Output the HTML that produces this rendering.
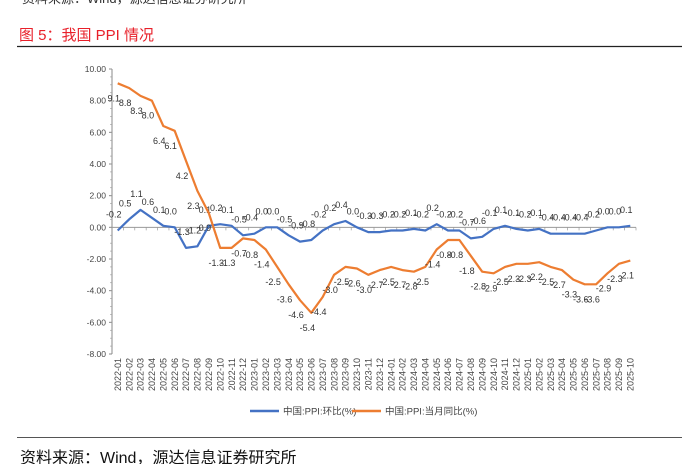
<!DOCTYPE html>
<html><head><meta charset="utf-8">
<style>
html,body{margin:0;padding:0;background:#fff;}
body{width:682px;height:464px;overflow:hidden;position:relative;font-family:"Liberation Sans","Noto Sans CJK SC",sans-serif;}
</style></head>
<body>
<svg id="chart" width="682" height="464" viewBox="0 0 682 464" xmlns="http://www.w3.org/2000/svg" font-family="Liberation Sans, Noto Sans CJK SC, sans-serif">
<text x="22" y="3" font-size="13" fill="#333">资料来源：Wind，源达信息证券研究所</text>
<text x="19" y="40" font-size="15" fill="#e8202a">图 5：我国 PPI 情况</text>
<line x1="17" y1="46.5" x2="682" y2="46.5" stroke="#222" stroke-width="1.3"/>
<g id="axes"></g>
<g id="series"></g>
<g id="legend">
<line x1="250" y1="411" x2="279" y2="411" stroke="#4472c4" stroke-width="2.5"/>
<text x="283" y="414.5" font-size="9.5" fill="#444">中国:PPI:环比(%)</text>
<line x1="352" y1="411" x2="381" y2="411" stroke="#ed7d31" stroke-width="2.5"/>
<text x="385" y="414.5" font-size="9.5" fill="#444">中国:PPI:当月同比(%)</text>
</g>
<line x1="17" y1="437.5" x2="682" y2="437.5" stroke="#555" stroke-width="1"/>
<text x="20" y="463" font-size="16" fill="#111">资料来源：Wind，源达信息证券研究所</text>
</svg>
<script>
const categories=[];
const years=[2022,2023,2024,2025];
const momValues=[-0.2,0.5,1.1,0.6,0.1,0.0,-1.3,-1.2,0.1,0.2,0.1,-0.5,
-0.4,0.0,0.0,-0.5,-0.9,-0.8,-0.2,0.2,0.4,0.0,-0.3,-0.3,
-0.2,-0.2,-0.1,-0.2,0.2,-0.2,-0.2,-0.7,-0.6,-0.1,0.1,-0.1,
-0.2,-0.1,-0.4,-0.4,-0.4,-0.4,-0.2,0.0,0.0,0.1];
const yoyValues=[9.1,8.8,8.3,8.0,6.4,6.1,4.2,2.3,0.9,-1.3,-1.3,-0.7,
-0.8,-1.4,-2.5,-3.6,-4.6,-5.4,-4.4,-3.0,-2.5,-2.6,-3.0,-2.7,
-2.5,-2.7,-2.8,-2.5,-1.4,-0.8,-0.8,-1.8,-2.8,-2.9,-2.5,-2.3,
-2.3,-2.2,-2.5,-2.7,-3.3,-3.6,-3.6,-2.9,-2.3,-2.1];
const yTicks=[10,8,6,4,2,0,-2,-4,-6,-8];
for(const y of years){for(let m=1;m<=12;m++){if(y===2025&&m>10)break;categories.push(y+'-'+String(m).padStart(2,'0'));}}

const NS='http://www.w3.org/2000/svg';
const X0=112,X1=636,YTOP=69,YBOT=354,VMAX=10,VMIN=-8;
const bw=(X1-X0)/categories.length;
function xPos(i){return X0+bw*(i+0.5);}
function yPos(v){return YTOP+(VMAX-v)/(VMAX-VMIN)*(YBOT-YTOP);}
function mk(tag,attrs,parent){const e=document.createElementNS(NS,tag);for(const k in attrs)e.setAttribute(k,attrs[k]);parent.appendChild(e);return e;}
const axes=document.getElementById('axes'),series=document.getElementById('series');

let e=mk('line',{x1:X0,y1:YTOP,x2:X0,y2:YBOT,stroke:'#888','stroke-width':1},axes);


for(const t of yTicks){
  const y=yPos(t);
  const tk=mk('line',{x1:X0-3,y1:y,x2:X0,y2:y,stroke:'#888'},axes);
  
  
  const lb=mk('text',{x:X0-6,y:y+3,'font-size':8.5,'text-anchor':'end',fill:'#444'},axes);
  lb.textContent=t.toFixed(2);
  
  
}
for(let v=VMAX;v>VMIN;v-=0.5){
  const y=yPos(v);
  const mt=mk('line',{x1:X0-2,y1:y,x2:X0,y2:y,stroke:'#999','stroke-width':0.6},axes);
  
  
}
const y0=yPos(0);
e=mk('line',{x1:X0,y1:y0,x2:X1,y2:y0,stroke:'#999','stroke-width':1},axes);


categories.forEach((c,i)=>{
  const x=xPos(i);
  const tk=mk('line',{x1:X0+bw*(i+1),y1:y0,x2:X0+bw*(i+1),y2:y0+3,stroke:'#999','stroke-width':0.7},axes);
  
  
  const lb=mk('text',{x:0,y:0,'font-size':9,'text-anchor':'end',fill:'#444',transform:`translate(${x+3.2},358) rotate(-90)`},axes);
  lb.textContent=c;
  
  
});
function drawSeries(vals,color,name,dy){
  const pts=vals.map((v,i)=>xPos(i).toFixed(1)+','+yPos(v).toFixed(1)).join(' ');
  const pl=mk('polyline',{points:pts,fill:'none',stroke:color,'stroke-width':2.2,'stroke-linejoin':'round'},series);
  
  
  vals.forEach((v,i)=>{
    const t=mk('text',{x:xPos(i)-4,y:yPos(v)+dy,'font-size':9,'text-anchor':'middle',fill:'#333'},series);
    t.textContent=v.toFixed(1);
    
    
  });
}
drawSeries(momValues,'#4472c4','mom',-13);
drawSeries(yoyValues,'#ed7d31','yoy',18);
</script>
</body></html>
